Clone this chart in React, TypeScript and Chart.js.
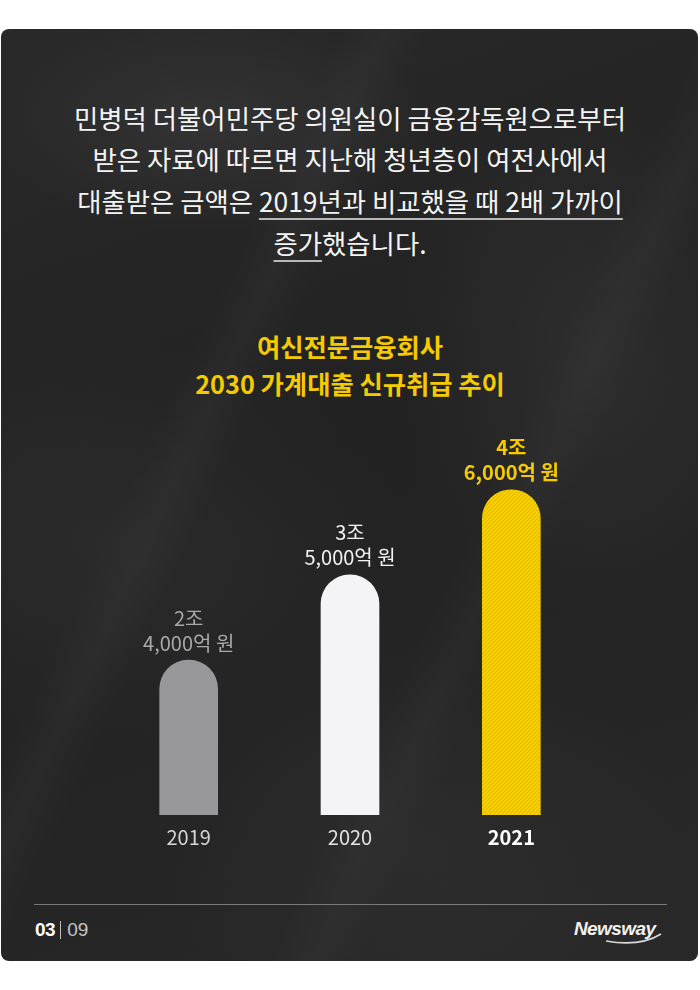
import React, { useEffect, useRef } from 'react';
import { Chart, registerables } from 'chart.js';

Chart.register(...registerables);

// ---- data ----
const years = ['2019', '2020', '2021'];
const loanValues = [2.4, 3.5, 4.6]; // 조 원
const valueLineOne = ['2조', '3조', '4조'];
const valueLineTwo = ['4,000억 원', '5,000억 원', '6,000억 원'];
const titleLines = ['여신전문금융회사', '2030 가계대출 신규취급 추이'];
const paragraphLines: { text: string; underline: boolean }[][] = [
  [{ text: '민병덕 더불어민주당 의원실이 금융감독원으로부터', underline: false }],
  [{ text: '받은 자료에 따르면 지난해 청년층이 여전사에서', underline: false }],
  [
    { text: '대출받은 금액은 ', underline: false },
    { text: '2019년과 비교했을 때 2배 가까이', underline: true },
  ],
  [
    { text: '증가', underline: true },
    { text: '했습니다.', underline: false },
  ],
];
const pageCurrent = '03';
const pageTotal = '09';
const brand = 'Newsway';

// ---- styles ----
const KR = "'Noto Sans CJK KR', 'Noto Sans', sans-serif";
const YELLOW = '#f6ca00';
const labelColors = ['#a9a9ab', '#f2f2f4', YELLOW];
const labelWeights = ['400', '400', '700'];
const tickColors = ['#d6d6d6', '#e4e4e4', '#ffffff'];

function makeHatch(): CanvasPattern | string {
  const s = 4;
  const c = document.createElement('canvas');
  c.width = s;
  c.height = s;
  const g = c.getContext('2d');
  if (!g) return YELLOW;
  g.fillStyle = '#f8d000';
  g.fillRect(0, 0, s, s);
  g.strokeStyle = '#d2aa00';
  g.lineWidth = 0.8;
  g.beginPath();
  g.moveTo(-1, 1);
  g.lineTo(1, -1);
  g.moveTo(0, s);
  g.lineTo(s, 0);
  g.moveTo(s - 1, s + 1);
  g.lineTo(s + 1, s - 1);
  g.stroke();
  const p = g.createPattern(c, 'repeat');
  return p || YELLOW;
}

const valueLabelPlugin = {
  id: 'valueLabels',
  afterDatasetsDraw(chart: any) {
    const ctx = chart.ctx;
    const meta = chart.getDatasetMeta(0);
    meta.data.forEach((bar: any, i: number) => {
      ctx.save();
      ctx.font = `${labelWeights[i]} 20px ${KR}`;
      ctx.fillStyle = labelColors[i];
      ctx.textAlign = 'center';
      ctx.textBaseline = 'middle';
      ctx.fillText(valueLineTwo[i], bar.x, bar.y - 17);
      ctx.fillText(valueLineOne[i], bar.x, bar.y - 42);
      ctx.restore();
    });
  },
};

function BarChart() {
  const ref = useRef<HTMLCanvasElement | null>(null);
  useEffect(() => {
    if (!ref.current) return;
    const hatch = makeHatch();
    const chart = new Chart(ref.current, {
      type: 'bar',
      data: {
        labels: years,
        datasets: [
          {
            data: loanValues,
            backgroundColor: ['#98989b', '#f4f4f6', hatch as any],
            borderWidth: 0,
            borderRadius: 29,
            borderSkipped: 'start',
            barThickness: 58,
          },
        ],
      },
      options: {
        animation: false,
        responsive: false,
        devicePixelRatio: 1,
        layout: { padding: { left: 108, right: 108, top: 20, bottom: 11 } },
        plugins: { legend: { display: false }, tooltip: { enabled: false } },
        scales: {
          y: { display: false, min: 0.4, max: 5.5 },
          x: {
            grid: { display: false, drawTicks: false },
            border: { display: false },
            ticks: {
              padding: 10,
              color: (c: any) => tickColors[c.index] || '#ddd',
              font: (c: any) => ({
                family: KR,
                size: 20,
                weight: c.index === 2 ? 'bold' : 'normal',
                lineHeight: 1.2,
              }),
            },
          },
        },
      },
      plugins: [valueLabelPlugin],
    });
    return () => chart.destroy();
  }, []);
  return (
    <canvas
      ref={ref}
      width={700}
      height={470}
      style={{ position: 'absolute', left: 0, top: 400, width: 700, height: 470 }}
    />
  );
}

export default function App() {
  const paraCenters = [120, 161, 203, 245];
  const titleCenters = [347, 384];
  return (
    <div
      style={{
        position: 'absolute',
        left: 0,
        top: 0,
        width: 700,
        height: 990,
        background: '#ffffff',
        overflow: 'hidden',
        fontFamily: KR,
      }}
    >
      <div
        style={{
          position: 'absolute',
          left: 1,
          top: 29,
          width: 697,
          height: 932,
          borderRadius: 8,
          background:
            'linear-gradient(115deg, rgba(0,0,0,0) 30%, rgba(70,70,70,0.18) 34%, rgba(0,0,0,0) 38%, rgba(0,0,0,0) 62%, rgba(70,70,70,0.16) 66%, rgba(0,0,0,0) 70%),' +
            'radial-gradient(ellipse 220px 110px at 30% 10%, rgba(70,70,70,0.4), rgba(0,0,0,0) 100%),' +
            'radial-gradient(ellipse 200px 260px at 85% 35%, rgba(62,62,62,0.4), rgba(0,0,0,0) 100%),' +
            'radial-gradient(ellipse 300px 200px at 15% 55%, rgba(55,55,55,0.4), rgba(0,0,0,0) 100%),' +
            'radial-gradient(ellipse 260px 200px at 60% 88%, rgba(56,56,56,0.35), rgba(0,0,0,0) 100%),' +
            'linear-gradient(160deg, #292929 0%, #222222 45%, #252525 75%, #292929 100%)',
          overflow: 'hidden',
        }}
      />
      {paragraphLines.map((segs, i) => (
        <div
          key={'p' + i}
          style={{
            position: 'absolute',
            left: 0,
            width: 700,
            top: paraCenters[i] - 20,
            height: 36,
            lineHeight: '36px',
            textAlign: 'center',
            color: '#f4f4f4',
            fontSize: 26.4,
            fontWeight: 400,
            whiteSpace: 'nowrap',
          }}
        >
          {segs.map((s, j) => (
            <span
              key={j}
              style={
                s.underline
                  ? {
                      textDecoration: 'underline',
                      textDecorationColor: '#b8b8b8',
                      textDecorationThickness: '1.5px',
                      textUnderlineOffset: '6px',
                    }
                  : undefined
              }
            >
              {s.text}
            </span>
          ))}
        </div>
      ))}
      {titleLines.map((t, i) => (
        <div
          key={'t' + i}
          style={{
            position: 'absolute',
            left: 0,
            width: 700,
            top: titleCenters[i] - 19,
            height: 36,
            lineHeight: '36px',
            textAlign: 'center',
            color: YELLOW,
            fontSize: 25.3,
            fontWeight: 700,
            whiteSpace: 'nowrap',
          }}
        >
          {t}
        </div>
      ))}
      <BarChart />
      <div
        style={{
          position: 'absolute',
          left: 34,
          top: 904,
          width: 633,
          height: 1,
          background: '#7a7a7a',
        }}
      />
      <div
        style={{
          position: 'absolute',
          left: 35,
          top: 918,
          height: 24,
          lineHeight: '24px',
          fontFamily: "'Liberation Sans', Arial, sans-serif",
          fontSize: 19,
          color: '#ffffff',
          whiteSpace: 'nowrap',
        }}
      >
        <span style={{ fontWeight: 900, letterSpacing: -0.5 }}>{pageCurrent}</span>
        <span
          style={{
            display: 'inline-block',
            width: 1,
            height: 18,
            background: '#bdbdbd',
            margin: '0 6px 0 5px',
            verticalAlign: '-3px',
          }}
        />
        <span style={{ color: '#c4c4c4', fontWeight: 400 }}>{pageTotal}</span>
      </div>
      <div
        style={{
          position: 'absolute',
          left: 574,
          top: 917,
          height: 24,
          lineHeight: '24px',
          fontFamily: "'Liberation Sans', Arial, sans-serif",
          fontSize: 19,
          fontWeight: 700,
          fontStyle: 'italic',
          color: '#f2f2f2',
          letterSpacing: -0.6,
          whiteSpace: 'nowrap',
        }}
      >
        {brand}
      </div>
      <svg
        width={700}
        height={990}
        style={{ position: 'absolute', left: 0, top: 0, pointerEvents: 'none' }}
      >
        <path
          d="M606 941 Q 640 947 661 934"
          stroke="#d8d8d8"
          strokeWidth={1.6}
          fill="none"
        />
      </svg>
    </div>
  );
}
